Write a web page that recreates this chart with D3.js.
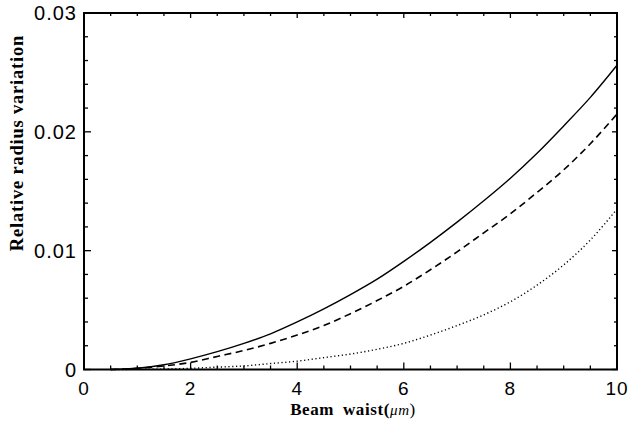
<!DOCTYPE html>
<html>
<head>
<meta charset="utf-8">
<script src="https://cdn.jsdelivr.net/npm/d3@7"></script>
<style>
  html, body { margin: 0; padding: 0; background: #fff; }
  svg { display: block; }
</style>
</head>
<body>
<svg id="chart" width="629" height="421"></svg>
<script>
// ---- data ----
const beamWaist = [0.5, 1, 1.5, 2, 2.5, 3, 3.5, 4, 4.5, 5, 5.5, 6, 6.5, 7, 7.5, 8, 8.5, 9, 9.5, 10];
const solidSeries = [0, 0.0001, 0.0004, 0.0009, 0.0015, 0.0022, 0.0030, 0.0040, 0.0051, 0.0063, 0.0076, 0.0091, 0.0107, 0.0124, 0.0142, 0.0161, 0.0182, 0.0205, 0.0229, 0.0256];
const dashedSeries = [0, 0.0001, 0.0003, 0.0006, 0.0011, 0.0016, 0.0022, 0.0029, 0.0037, 0.0047, 0.0058, 0.0070, 0.0084, 0.0099, 0.0115, 0.0131, 0.0149, 0.0168, 0.0190, 0.0215];
const dottedSeries = [0, 0.00001, 0.00003, 0.0001, 0.0002, 0.0003, 0.0005, 0.0007, 0.0010, 0.0013, 0.0017, 0.0022, 0.0029, 0.0037, 0.0046, 0.0057, 0.0071, 0.0088, 0.0109, 0.0135];
const xTicks = [0, 2, 4, 6, 8, 10];
const xTickLabels = ["0", "2", "4", "6", "8", "10"];
const xMinorTicks = d3.range(0, 10.0001, 0.5);
const yTicks = [0, 0.01, 0.02, 0.03];
const yTickLabels = ["0", "0.01", "0.02", "0.03"];
const yMinorTicks = d3.range(0, 0.03001, 0.002);
const xTitle = "Beam waist";
const xUnit = "\u03bcm";
const yTitle = "Relative radius variation";

// ---- layout ----
const svg = d3.select("#chart");
const L = 84, R = 617, T = 13, B = 369.5;
const x = d3.scaleLinear().domain([0, 10]).range([L, R]);
const y = d3.scaleLinear().domain([0, 0.03]).range([B, T]);

const g = svg.append("g");

// ticks on all four sides (inward)
const tickStyle = sel => sel.attr("stroke", "#000").attr("stroke-width", 1.3);
function addTicks(values, majorSet, horizontal) {
  values.forEach(v => {
    const isMajor = majorSet.some(m => Math.abs(m - v) < 1e-9);
    const len = isMajor ? 7 : 4;
    if (horizontal) {
      const px = x(v);
      g.append("line").call(tickStyle).attr("x1", px).attr("x2", px).attr("y1", B).attr("y2", B - len);
      g.append("line").call(tickStyle).attr("x1", px).attr("x2", px).attr("y1", T).attr("y2", T + (isMajor ? 5 : 3));
    } else {
      const py = y(v);
      g.append("line").call(tickStyle).attr("y1", py).attr("y2", py).attr("x1", L).attr("x2", L + len);
      g.append("line").call(tickStyle).attr("y1", py).attr("y2", py).attr("x1", R).attr("x2", R - (isMajor ? 5 : 3));
    }
  });
}
addTicks(xMinorTicks, xTicks, true);
addTicks(yMinorTicks, yTicks, false);

// frame
g.append("rect")
  .attr("x", L).attr("y", T).attr("width", R - L).attr("height", B - T)
  .attr("fill", "none").attr("stroke", "#000").attr("stroke-width", 2);

// tick labels
const labelFont = "'Liberation Sans', Arial, Helvetica, sans-serif";
g.selectAll(".xl").data(xTicks).enter().append("text")
  .attr("x", d => x(d)).attr("y", 395)
  .attr("text-anchor", "middle")
  .attr("font-family", labelFont).attr("font-size", 19).attr("letter-spacing", 1)
  .text((d, i) => xTickLabels[i]);
g.selectAll(".yl").data(yTicks).enter().append("text")
  .attr("x", 77).attr("y", d => y(d)).attr("dy", "0.36em")
  .attr("text-anchor", "end")
  .attr("font-family", labelFont).attr("font-size", 20).attr("letter-spacing", 1)
  .text((d, i) => yTickLabels[i]);

// axis titles
const titleFont = "'Liberation Serif', 'Times New Roman', serif";
const xt = g.append("text")
  .attr("x", 353).attr("y", 415)
  .attr("text-anchor", "middle")
  .attr("font-family", titleFont).attr("font-size", 17).attr("font-weight", "bold")
  .attr("letter-spacing", 0.6).attr("word-spacing", 4);
xt.append("tspan").text(xTitle + "(");
xt.append("tspan").attr("font-style", "italic").attr("font-weight", "normal").attr("font-size", 15).text(xUnit);
xt.append("tspan").attr("font-weight", "normal").text(")");

g.append("text")
  .attr("transform", "translate(23,143) rotate(-90)")
  .attr("text-anchor", "middle")
  .attr("font-family", titleFont).attr("font-size", 18.5).attr("font-weight", "bold")
  .attr("letter-spacing", 0.8)
  .text(yTitle);

// curves
const line = d3.line()
  .x((d, i) => x(beamWaist[i]))
  .y(d => y(d))
  .curve(d3.curveMonotoneX);

g.append("path").datum(solidSeries).attr("d", line)
  .attr("fill", "none").attr("stroke", "#000").attr("stroke-width", 1.4);
g.append("path").datum(dashedSeries).attr("d", line)
  .attr("fill", "none").attr("stroke", "#000").attr("stroke-width", 1.6)
  .attr("stroke-dasharray", "7,4.5");
g.append("path").datum(dottedSeries).attr("d", line)
  .attr("fill", "none").attr("stroke", "#000").attr("stroke-width", 1.4)
  .attr("stroke-dasharray", "1.2,2.6");
</script>
</body>
</html>
